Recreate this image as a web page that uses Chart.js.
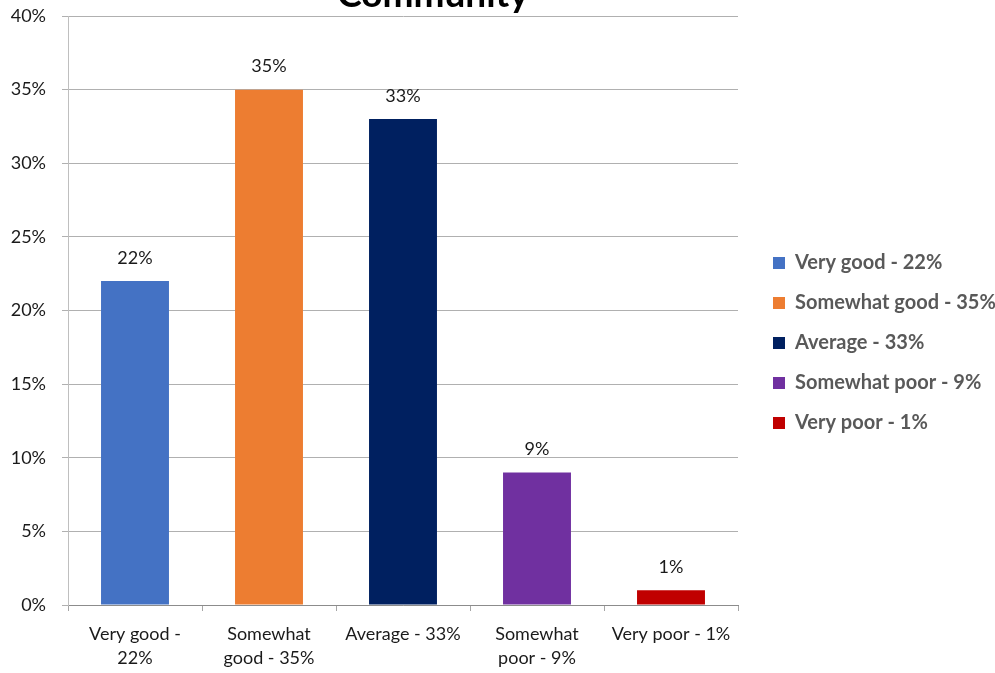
<!DOCTYPE html>
<html>
<head>
<meta charset="utf-8">
<script src="https://cdn.jsdelivr.net/npm/chart.js@4/dist/chart.umd.min.js"></script>
<style>
    html, body { margin: 0; padding: 0; background: #fff; overflow: hidden; }
    #wrap { position: relative; width: 995px; height: 673px; }
</style>
</head>
<body>
<div id="wrap"><canvas id="chart"></canvas></div>
<script>
const categories = ['Very good - 22%', 'Somewhat good - 35%', 'Average - 33%', 'Somewhat poor - 9%', 'Very poor - 1%'];
const tickLabels = [['Very good -', '22%'], ['Somewhat', 'good - 35%'], ['Average - 33%'], ['Somewhat', 'poor - 9%'], ['Very poor - 1%']];
const values = [22, 35, 33, 9, 1];
const barColors = ['#4472C4', '#ED7D31', '#002060', '#7030A0', '#C00000'];
const titleText = 'Community';

const FONT = "Lato, 'Open Sans', sans-serif";

// value labels above each bar
const barLabels = {
    id: 'barLabels',
    afterDatasetsDraw(chart) {
        const ctx = chart.ctx;
        const meta = chart.getDatasetMeta(0);
        ctx.save();
        ctx.font = `18px ${FONT}`;
        ctx.fillStyle = '#1a1a1a';
        ctx.textAlign = 'center';
        ctx.textBaseline = 'bottom';
        meta.data.forEach((bar, i) => {
            ctx.fillText(values[i] + '%', bar.x, bar.y - 14);
        });
        ctx.restore();
    }
};

// title sits mostly above the visible frame, as in the original
const cutTitle = {
    id: 'cutTitle',
    afterDraw(chart) {
        const ctx = chart.ctx;
        ctx.save();
        ctx.font = `bold 37px ${FONT}`;
        ctx.fillStyle = '#000';
        ctx.textAlign = 'center';
        ctx.textBaseline = 'alphabetic';
        ctx.fillText(titleText, 433, 7);
        ctx.restore();
    }
};

new Chart(document.getElementById('chart'), {
    type: 'bar',
    data: {
        labels: tickLabels,
        datasets: [{
            data: values,
            backgroundColor: barColors,
            borderWidth: 0,
            categoryPercentage: 1,
            barPercentage: 0.507
        }]
    },
    options: {
        responsive: true,
        maintainAspectRatio: false,
        animation: false,
        layout: { padding: { top: 16, right: 0, bottom: 3, left: 9 } },
        plugins: {
            title: { display: false },
            tooltip: { enabled: false },
            legend: {
                position: 'right',
                align: 'center',
                maxWidth: 242,
                labels: {
                    boxWidth: 12,
                    boxHeight: 12,
                    padding: 20,
                    color: '#595959',
                    font: { family: FONT, size: 20, weight: 'bold' },
                    generateLabels: () => categories.map((c, i) => ({
                        text: c,
                        fillStyle: barColors[i],
                        strokeStyle: barColors[i],
                        fontColor: '#595959',
                        lineWidth: 0,
                        index: i
                    }))
                }
            }
        },
        scales: {
            x: {
                grid: {
                    display: true,
                    drawOnChartArea: false,
                    tickLength: 6,
                    color: '#a6a6a6',
                    offset: true
                },
                border: { color: '#8c8c8c', width: 1 },
                ticks: {
                    color: '#1a1a1a',
                    padding: 11,
                    maxRotation: 0,
                    autoSkip: false,
                    font: { family: FONT, size: 18, lineHeight: 1.333 }
                },
                afterFit: s => { s.height = 65; }
            },
            y: {
                min: 0,
                max: 40,
                ticks: {
                    stepSize: 5,
                    color: '#1a1a1a',
                    padding: 16,
                    font: { family: FONT, size: 18 },
                    callback: v => v + '%'
                },
                grid: { color: '#b0b0b0', tickLength: 6 },
                border: { color: '#bfbfbf', width: 1 },
                afterFit: s => { s.width = 59; s.paddingTop = 0; }
            },
            // empty spacer between plot and legend
            gap: {
                type: 'linear',
                position: 'right',
                display: true,
                grid: { display: false },
                border: { display: false },
                ticks: { display: false },
                afterFit: s => { s.width = 15; s.paddingTop = 0; s.paddingBottom = 0; }
            }
        }
    },
    plugins: [barLabels, cutTitle]
});
</script>
</body>
</html>
